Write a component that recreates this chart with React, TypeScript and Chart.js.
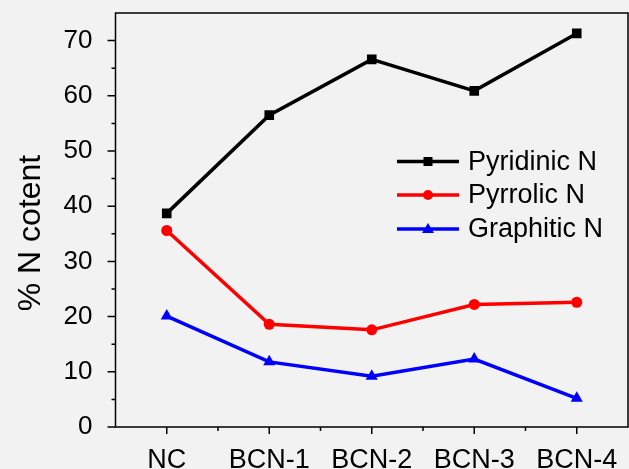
import React, { useEffect, useRef } from "react";
import { Chart, registerables } from "chart.js";

Chart.register(...registerables);

const categories = ["NC", "BCN-1", "BCN-2", "BCN-3", "BCN-4"];
const pyridinic = [38.7, 56.5, 66.6, 60.9, 71.3];
const pyrrolic = [35.6, 18.6, 17.6, 22.2, 22.6];
const graphitic = [20.1, 11.8, 9.2, 12.3, 5.2];
const yTicks = [0, 10, 20, 30, 40, 50, 60, 70];
const yMinorTicks = [5, 15, 25, 35, 45, 55, 65];
const seriesNames = ["Pyridinic N", "Pyrrolic N", "Graphitic N"];
const seriesColors = ["#000000", "#ff0000", "#0000ff"];
const seriesStyles = ["rect", "circle", "triangle"];
const yTitle = "% N cotent";

const FONT = "'Liberation Sans', Arial, sans-serif";

const decorPlugin = {
  id: "decor",
  beforeDraw(chart: any) {
    const { ctx, width, height } = chart;
    ctx.save();
    ctx.fillStyle = "#f2f2f2";
    ctx.fillRect(0, 0, width, height);
    ctx.restore();
  },
  afterDraw(chart: any) {
    const { ctx, chartArea } = chart;
    const xs = chart.scales.x;
    const ys = chart.scales.y;
    ctx.save();
    ctx.strokeStyle = "#000";
    ctx.lineWidth = 1.5;
    ctx.beginPath();
    ctx.rect(chartArea.left, chartArea.top, chartArea.right - chartArea.left, chartArea.bottom - chartArea.top);
    ctx.stroke();
    // y ticks
    ctx.beginPath();
    yTicks.forEach((v) => {
      const y = ys.getPixelForValue(v);
      ctx.moveTo(chartArea.left - 8, y);
      ctx.lineTo(chartArea.left, y);
    });
    yMinorTicks.forEach((v) => {
      const y = ys.getPixelForValue(v);
      ctx.moveTo(chartArea.left - 4, y);
      ctx.lineTo(chartArea.left, y);
    });
    // x ticks
    categories.forEach((_, i) => {
      const x = xs.getPixelForValue(i);
      ctx.moveTo(x, chartArea.bottom);
      ctx.lineTo(x, chartArea.bottom + 7);
      if (i < categories.length - 1) {
        const xm = (x + xs.getPixelForValue(i + 1)) / 2;
        ctx.moveTo(xm, chartArea.bottom);
        ctx.lineTo(xm, chartArea.bottom + 4);
      }
    });
    ctx.stroke();

    // y title
    ctx.save();
    ctx.translate(31, 233);
    ctx.rotate(-Math.PI / 2);
    ctx.fillStyle = "#000";
    ctx.font = `32px ${FONT}`;
    ctx.textAlign = "center";
    ctx.textBaseline = "middle";
    ctx.fillText(yTitle, 0, 0);
    ctx.restore();

    // legend
    const lx0 = 397, lx1 = 459, mx = 428, tx = 468;
    const rows = [161.5, 195, 229];
    seriesNames.forEach((name, i) => {
      const y = rows[i];
      const c = seriesColors[i];
      ctx.strokeStyle = c;
      ctx.fillStyle = c;
      ctx.lineWidth = 3.5;
      ctx.beginPath();
      ctx.moveTo(lx0, y);
      ctx.lineTo(lx1, y);
      ctx.stroke();
      ctx.beginPath();
      if (seriesStyles[i] === "rect") {
        ctx.fillRect(mx - 4.5, y - 4.5, 9, 9);
      } else if (seriesStyles[i] === "circle") {
        ctx.arc(mx, y, 5, 0, Math.PI * 2);
        ctx.fill();
      } else {
        ctx.moveTo(mx, y - 6);
        ctx.lineTo(mx + 6, y + 4);
        ctx.lineTo(mx - 6, y + 4);
        ctx.closePath();
        ctx.fill();
      }
      ctx.fillStyle = "#000";
      ctx.font = `27px ${FONT}`;
      ctx.textAlign = "left";
      ctx.textBaseline = "middle";
      ctx.fillText(name, tx, y + 1);
    });
    ctx.restore();
  },
};

export default function App() {
  const ref = useRef<HTMLCanvasElement | null>(null);
  useEffect(() => {
    if (!ref.current) return;
    const data = [pyridinic, pyrrolic, graphitic];
    const chart = new Chart(ref.current, {
      type: "line",
      data: {
        labels: categories,
        datasets: data.map((d, i) => ({
          label: seriesNames[i],
          data: d,
          borderColor: seriesColors[i],
          backgroundColor: seriesColors[i],
          borderWidth: 3.5,
          pointStyle: seriesStyles[i] as any,
          pointRadius: i === 0 ? 6.8 : i === 1 ? 5.5 : 7,
          pointBorderWidth: 0,
          tension: 0,
        })),
      },
      options: {
        animation: false,
        responsive: false,
        devicePixelRatio: 1,
        layout: { autoPadding: false, padding: { left: 0, right: 1, top: 13, bottom: 0 } },
        plugins: {
          legend: { display: false },
          title: { display: false },
          tooltip: { enabled: false },
        },
        scales: {
          x: {
            type: "category",
            offset: true,
            grid: { display: false },
            border: { display: false },
            ticks: {
              color: "#000",
              font: { family: FONT, size: 27 },
              padding: 9,
              maxRotation: 0,
              autoSkip: false,
            },
            afterFit: (s: any) => {
              s.height = 42;
              s.paddingLeft = 0;
              s.paddingRight = 0;
            },
          },
          y: {
            type: "linear",
            min: 0,
            max: 75,
            grid: { display: false },
            border: { display: false },
            afterBuildTicks: (s: any) => {
              s.ticks = yTicks.map((v) => ({ value: v }));
            },
            ticks: {
              color: "#000",
              font: { family: FONT, size: 26 },
              padding: 15,
            },
            afterFit: (s: any) => {
              s.width = 115.5;
              s.paddingTop = 0;
              s.paddingBottom = 0;
            },
          },
        },
      },
      plugins: [decorPlugin],
    });
    return () => chart.destroy();
  }, []);
  return (
    <div style={{ position: "fixed", left: 0, top: 0, width: 629, height: 469, background: "#f2f2f2" }}>
      <canvas ref={ref} width={629} height={469} style={{ display: "block" }} />
    </div>
  );
}
